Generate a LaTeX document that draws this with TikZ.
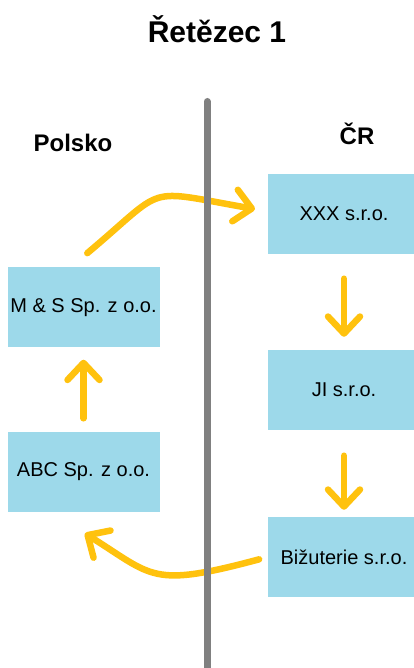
\documentclass[tikz,border=0pt]{standalone}
\usepackage{fontspec}
\setmainfont{Liberation Sans}
\usepackage{tikz}
\usetikzlibrary{arrows.meta}
\definecolor{firmblue}{HTML}{9DD9EA}
\definecolor{flowyellow}{HTML}{FFC20E}
\tikzset{firm/.style={fill=firmblue, minimum width=152pt, minimum height=80pt, inner sep=0pt, font=\fontsize{20}{24}\selectfont},
flow/.style={draw=flowyellow, line width=6.5pt, line cap=round, -{Straight Barb[round,length=17pt,width=32pt]}}}

\begin{document}
\begin{tikzpicture}[x=1pt,y=1pt]
\useasboundingbox (0,0) rectangle (413,668);
\node (title) [anchor=base, font=\bfseries\fontsize{30}{36}\selectfont] at (217,625) {Řetězec 1};
\node (pl) [anchor=base, font=\bfseries\fontsize{24}{29}\selectfont] at (73,516) {Polsko};
\node (cr) [anchor=base, font=\bfseries\fontsize{24}{29}\selectfont] at (357,523) {ČR};
\node (xxx) [firm] at (344,454) {XXX s.r.o.};
\node (ji) [firm, below of = xxx, node distance = 176pt] {JI s.r.o.};
\node (biz) [firm, below of = ji, node distance = 167pt] {Bižuterie s.r.o.};
\node (ms) [firm] at (83.5,360.5) {M \& S Sp. z o.o.};
\node (abc) [firm, below of = ms, node distance = 164.5pt] {ABC Sp. z o.o.};
\draw[flow, shorten <=24.5pt, shorten >=13pt] (xxx.south) -- (ji.north);
\draw[flow, shorten <=25.5pt, shorten >=7pt] (ji.south) -- (biz.north);
\draw[flow, shorten <=13.5pt, shorten >=12pt] (abc.north) -- (ms.south);
\draw[flow, shorten <=22pt, shorten >=13pt] (ms.108) to[out=40, in=170, looseness=1.6] (xxx.178);
\draw[flow, shorten <=9pt, shorten >=40pt] (biz.west) to[out=195, in=-32, looseness=1.4] (abc.231);
% border between the two countries
\draw[line width=7pt, color=gray, line cap=round] (207,566.5) -- (207,-10);
\end{tikzpicture}
\end{document}
